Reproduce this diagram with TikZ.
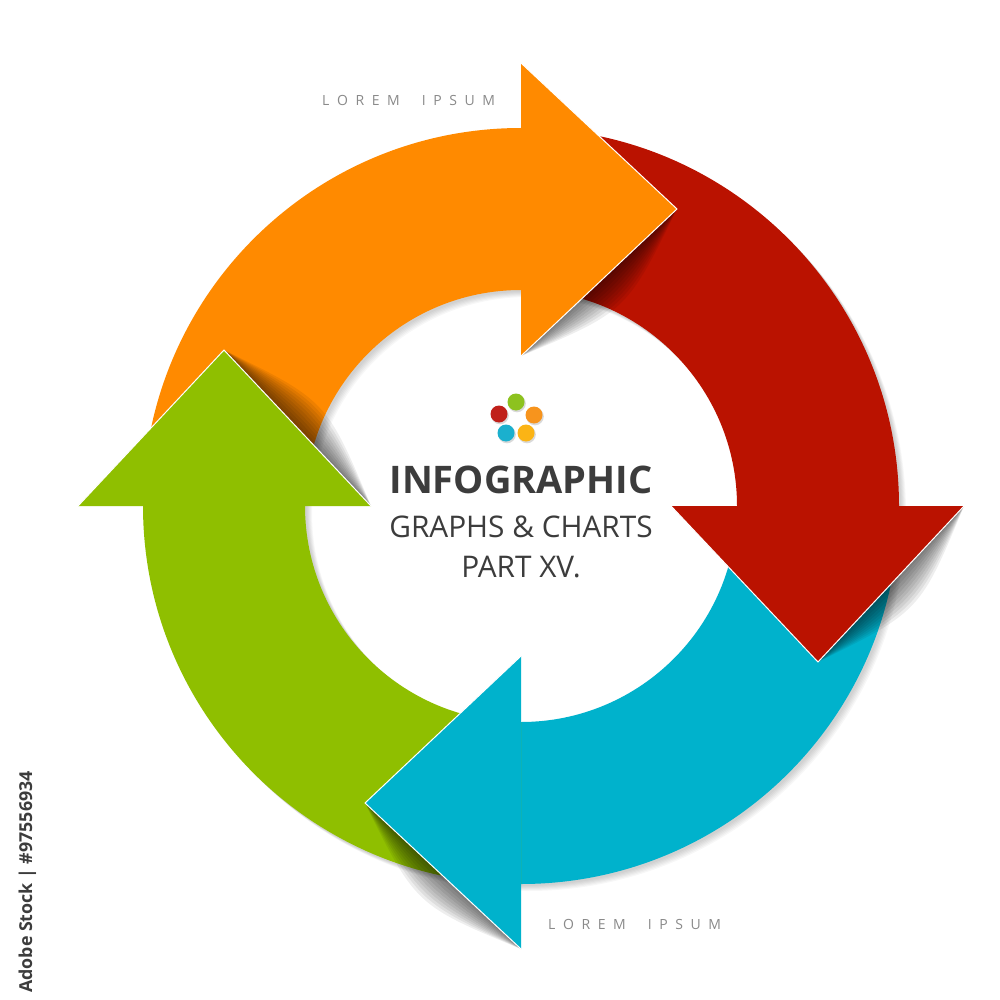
\documentclass[tikz,border=0pt]{standalone}
\usepackage{fontspec}
\setmainfont{Open Sans}
\usetikzlibrary{calc}
\definecolor{cOrange}{HTML}{FF8A00}
\definecolor{cRed}{HTML}{BA1200}
\definecolor{cCyan}{HTML}{00B2CC}
\definecolor{cGreen}{HTML}{8FBF00}
\definecolor{cText}{HTML}{3C3C3C}
\definecolor{cGray}{HTML}{8A8A8A}
\definecolor{dRed}{HTML}{C0201A}
\definecolor{dGreen}{HTML}{8DC21F}
\definecolor{dOrange}{HTML}{F7941D}
\definecolor{dCyan}{HTML}{1BB0CE}
\definecolor{dYellow}{HTML}{FBB415}
\newcommand\spc{\kern 7.6pt}
\begin{document}
\begin{tikzpicture}[x=1pt,y=-1pt,
  headedge/.style={white, line width=1pt, line join=miter},
  lens/.style={black, opacity=0.065},
  dot/.style={circle, inner sep=0pt, minimum size=17pt},
  lorem/.style={font=\fontsize{14}{14}\selectfont, text=cGray, anchor=base west, inner sep=0pt}]
\useasboundingbox (0,0) rectangle (1000,1000);
\fill[white] (0,0) rectangle (1000,1000);

\begin{scope}[shift={(521,506)}]
  % soft shadow of the ring
  \foreach \k in {1,...,6} {
    \fill[black, opacity=0.03, even odd rule, shift={(\k+1,\k+1)}]
      (0,0) circle[radius=378] (0,0) circle[radius=216];
  }
  % bands
  \fill[cOrange] (180:378) arc[start angle=180,end angle=270,radius=378]
     -- (270:216) arc[start angle=270,end angle=180,radius=216] -- cycle;
  \fill[cRed] (270:378) arc[start angle=270,end angle=360,radius=378]
     -- (0:216) arc[start angle=360,end angle=270,radius=216] -- cycle;
  \fill[cCyan] (0:378) arc[start angle=0,end angle=90,radius=378]
     -- (90:216) arc[start angle=90,end angle=0,radius=216] -- cycle;
  \fill[cGreen] (90:378) arc[start angle=90,end angle=180,radius=378]
     -- (180:216) arc[start angle=180,end angle=90,radius=216] -- cycle;

  % arrowhead shadows
  \foreach \d in {2,4,...,20} {
    \fill[lens] (156,-297) .. controls ($(78,-223.5)+2*\d*(0.686,0.727)$) .. (0,-150) -- cycle;
    \fill[lens] (297,156) .. controls ($(370,78)+2*\d*(0.729,0.682)$) .. (443,0) -- cycle;
    \fill[lens] (-156,297) .. controls ($(-78,370)+2*\d*(-0.682,0.729)$) .. (0,443) -- cycle;
    \fill[lens] (-297,-156) .. controls ($(-223.5,-78)+2*\d*(0.727,-0.686)$) .. (-150,0) -- cycle;
  }

  % arrowheads
  \fill[cOrange] (0,-443) -- (156,-297) -- (0,-150) -- cycle;
  \draw[headedge] (0,-443) -- (156,-297) -- (0,-150);
  \fill[cRed] (443,0) -- (297,156) -- (150,0) -- cycle;
  \draw[headedge] (443,0) -- (297,156) -- (150,0);
  \fill[cCyan] (0,443) -- (-156,297) -- (0,150) -- cycle;
  \draw[headedge] (0,443) -- (-156,297) -- (0,150);
  \fill[cGreen] (-443,0) -- (-297,-156) -- (-150,0) -- cycle;
  \draw[headedge] (-443,0) -- (-297,-156) -- (-150,0);
\end{scope}

% logo dots
\foreach \p/\c/\n in {{516,402}/dGreen/dg, {499,414}/dRed/dr, {534,415}/dOrange/do, {506,433}/dCyan/dc, {526,433}/dYellow/dy} {
  \fill[black, opacity=0.15] ($(\p)+(1,1.5)$) circle[radius=8.8];
  \node[dot, fill=\c] (\n) at (\p) {};
}

% texts
\node[anchor=base, inner sep=0pt, text=cText, font=\fontsize{38}{38}\selectfont\bfseries] (title) at (521,493) {INFOGRAPHIC};
\node[anchor=base, inner sep=0pt, text=cText, font=\fontsize{29.8}{29.8}\selectfont] (sub1) at (521,537) {GRAPHS \& CHARTS};
\node[anchor=base, inner sep=0pt, text=cText, font=\fontsize{29.8}{29.8}\selectfont] (sub2) at (521,577) {PART XV.};

\node[lorem] (ltop) at (322,106) {L\spc O\spc R\spc E\spc M\kern 22pt I\spc P\spc S\spc U\spc M};
\node[lorem] (lbot) at (548,929) {L\spc O\spc R\spc E\spc M\kern 22pt I\spc P\spc S\spc U\spc M};

\node[rotate=90, anchor=base west, inner sep=0pt, text=cText, font=\fontsize{17.8}{17.8}\selectfont\bfseries] (stock) at (32,993) {Adobe Stock | \#97556934};
\end{tikzpicture}
\end{document}
